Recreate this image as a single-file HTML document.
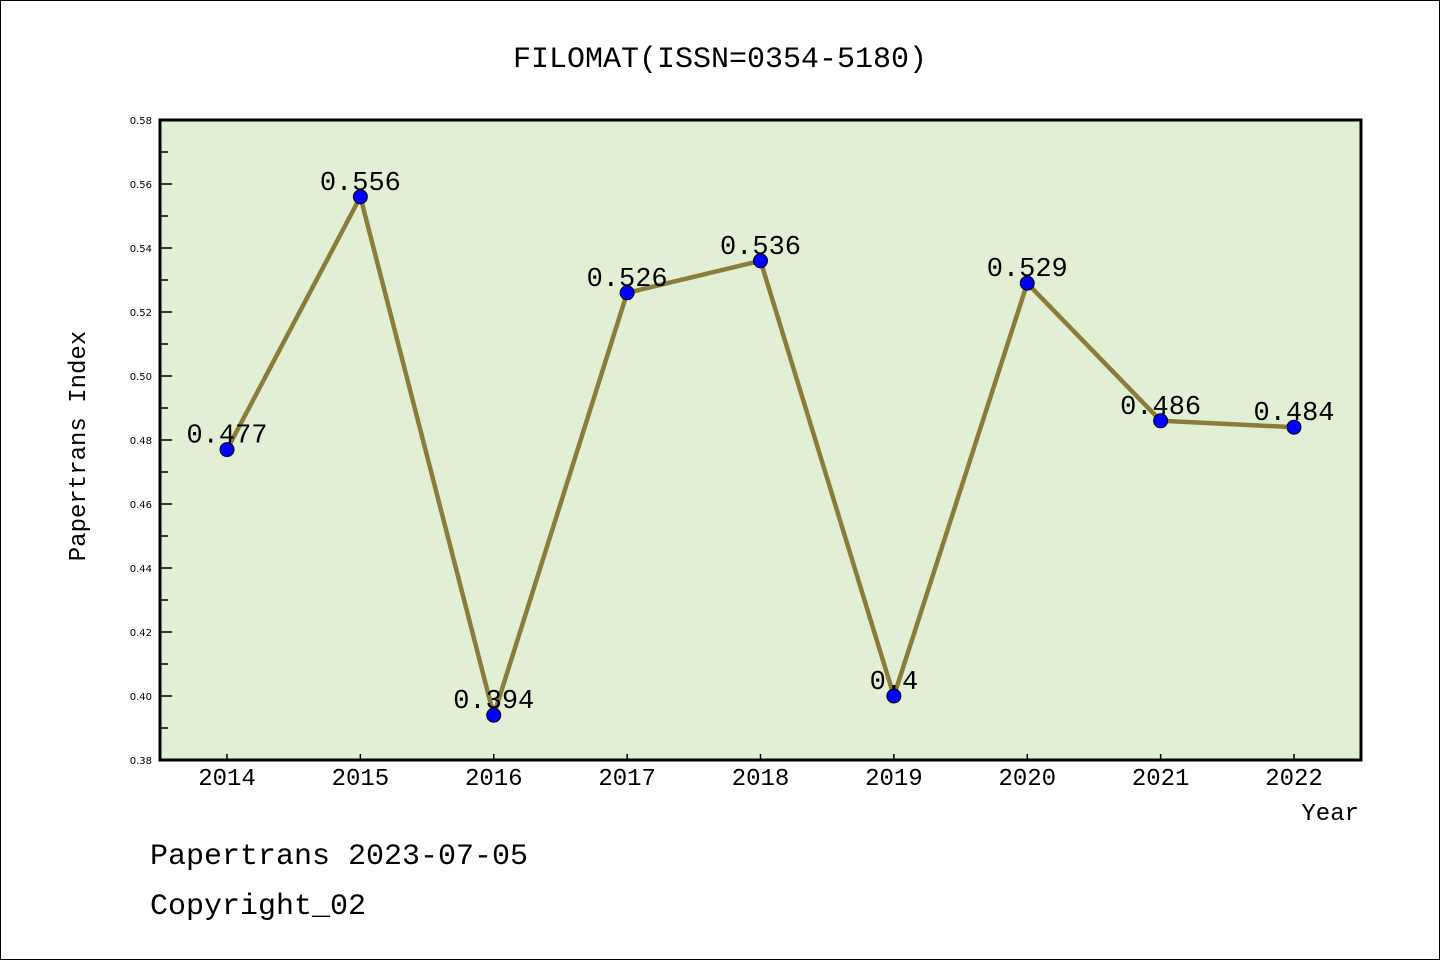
<!DOCTYPE html>
<html><head><meta charset="utf-8"><style>
html,body{margin:0;padding:0;background:#fff;}
svg{display:block;}
text{font-family:"Liberation Mono","WenQuanYi Zen Hei",monospace;fill:#000;}
text.tl{font-family:"DejaVu Sans","Liberation Sans",sans-serif;font-size:10px;}
</style></head><body>
<svg id="chart" width="1440" height="960">
<rect x="0.5" y="0.5" width="1439" height="959" fill="#fff" stroke="#000" stroke-width="1"/>
<text x="720" y="67" font-size="30" text-anchor="middle">FILOMAT(ISSN=0354-5180)</text>
<rect x="160" y="120" width="1201" height="640" fill="#e2efd5"/>
<g id="grid"></g>
<g id="series"></g>
<rect x="160" y="120" width="1201" height="640" fill="none" stroke="#000" stroke-width="3"/>
<text transform="translate(85,446) rotate(-90)" font-size="24" text-anchor="middle">Papertrans Index</text>
<text x="1359" y="820" font-size="24" text-anchor="end">Year</text>
<text x="150" y="864" font-size="30">Papertrans 2023-07-05</text>
<text x="150" y="914" font-size="30">Copyright_02</text>
</svg>
<script>
const years = [2014,2015,2016,2017,2018,2019,2020,2021,2022];
const values = [0.477,0.556,0.394,0.526,0.536,0.4,0.529,0.486,0.484];
const valueLabels = ["0.477","0.556","0.394","0.526","0.536","0.4","0.529","0.486","0.484"];
const yTicks = [0.38,0.40,0.42,0.44,0.46,0.48,0.50,0.52,0.54,0.56,0.58];
const yTickLabels = ["0.38","0.40","0.42","0.44","0.46","0.48","0.50","0.52","0.54","0.56","0.58"];

const NS="http://www.w3.org/2000/svg";
const yMin=0.38,yMax=0.58,plotTop=120,plotBottom=760;
function yS(v){return plotBottom-(v-yMin)/(yMax-yMin)*(plotBottom-plotTop);}
function xS(i){return 227+i*(1294-227)/(years.length-1);}
function mk(tag,attrs,parent){const e=document.createElementNS(NS,tag);for(const k in attrs)e.setAttribute(k,attrs[k]);parent.appendChild(e);return e;}
const grid=document.getElementById('grid'),ser=document.getElementById('series');
yTicks.forEach((t,i)=>{
  const y=yS(t);
  const tk=mk('line',{x1:160,x2:172,y1:y,y2:y,stroke:'#000','stroke-width':1.5},grid);
  
  
  const lb=mk('text',{x:152,y:y+4,'text-anchor':'end','class':'tl'},grid);
  lb.textContent=yTickLabels[i];
  
  
  if(i<yTicks.length-1){
    const ym=yS(t+(yTicks[1]-yTicks[0])/2);
    const mt=mk('line',{x1:160,x2:168,y1:ym,y2:ym,stroke:'#000','stroke-width':1.5},grid);
    
    
  }
});
years.forEach((yr,i)=>{
  const x=xS(i);
  const tk=mk('line',{x1:x,x2:x,y1:760,y2:754,stroke:'#000','stroke-width':1.5},grid);
  
  
  const lb=mk('text',{x:x,y:785,'font-size':24,'text-anchor':'middle'},grid);
  lb.textContent=yr;
  
  
});
const pl=mk('polyline',{points:values.map((v,i)=>xS(i)+','+yS(v)).join(' '),fill:'none',stroke:'#8a7d3a','stroke-width':4.5,'stroke-linejoin':'round'},ser);


values.forEach((v,i)=>{
  const c=mk('circle',{cx:xS(i),cy:yS(v),r:7,fill:'#0000ff',stroke:'#000','stroke-width':1},ser);
  
  
  const t=mk('text',{x:xS(i),y:yS(v)-7,'font-size':27,'text-anchor':'middle'},ser);
  t.textContent=valueLabels[i];
  
  
});
</script>
</body></html>
